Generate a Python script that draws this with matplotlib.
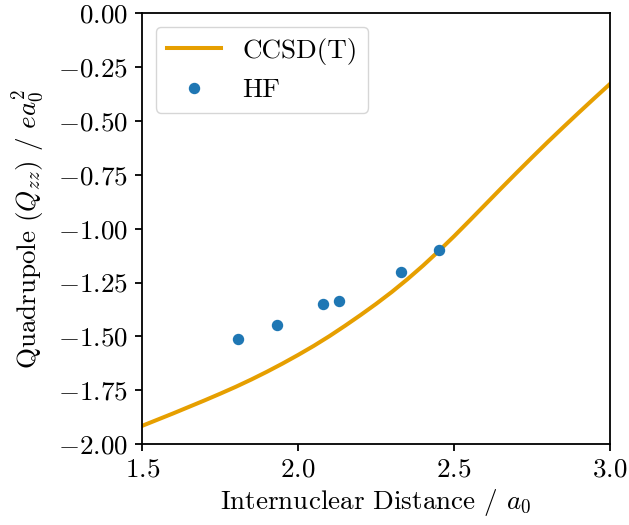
import numpy as np
import matplotlib
matplotlib.use("Agg")
import matplotlib.pyplot as plt

# computer modern look without latex
plt.rcParams["font.family"] = "serif"
plt.rcParams["font.serif"] = ["cmr10"]
plt.rcParams["mathtext.fontset"] = "cm"
plt.rcParams["axes.formatter.use_mathtext"] = True
plt.rcParams["font.size"] = 19.5
plt.rcParams["axes.linewidth"] = 1.3
plt.rcParams["xtick.major.size"] = 5
plt.rcParams["ytick.major.size"] = 5
plt.rcParams["xtick.major.width"] = 1.3
plt.rcParams["ytick.major.width"] = 1.3
plt.rcParams["xtick.major.pad"] = 5
plt.rcParams["ytick.major.pad"] = 5

# CCSD(T) curve
r_ccsd = [1.50, 1.55, 1.60, 1.65, 1.70, 1.75, 1.80, 1.85, 1.90, 1.95, 2.00,
          2.05, 2.10, 2.15, 2.20, 2.25, 2.30, 2.35, 2.40, 2.45, 2.50,
          2.55, 2.60, 2.65, 2.70, 2.75, 2.80, 2.85, 2.90, 2.95, 3.00]
q_ccsd = [-1.915, -1.886, -1.857, -1.827, -1.797, -1.766, -1.734, -1.700, -1.664, -1.626, -1.586,
          -1.544, -1.499, -1.451, -1.401, -1.349, -1.294, -1.235, -1.172, -1.105, -1.035,
          -0.962, -0.888, -0.814, -0.741, -0.669, -0.598, -0.529, -0.461, -0.394, -0.328]

# HF points
r_hf = [1.808, 1.932, 2.079, 2.130, 2.330, 2.453]
q_hf = [-1.514, -1.448, -1.349, -1.337, -1.200, -1.099]

fig = plt.figure(figsize=(6.29, 5.25), dpi=100)
ax = fig.add_axes([0.226, 0.154, 0.744, 0.821])

ax.plot(r_ccsd, q_ccsd, color="#E69F00", lw=2.9, label="CCSD(T)")
ax.plot(r_hf, q_hf, "o", color="#1f77b4", ms=7.2, label="HF")

ax.set_xlim(1.5, 3.0)
ax.set_ylim(-2.0, 0.0)
ax.set_xticks([1.5, 2.0, 2.5, 3.0])
ax.set_yticks(np.arange(-2.0, 0.01, 0.25))
ax.set_xlabel("Internuclear Distance / $a_0$")
ax.set_ylabel("Quadrupole $(Q_{zz})$ / $ea_0^2$", labelpad=8)
ax.legend(loc="upper left")

fig.savefig("out.png", dpi=100)
